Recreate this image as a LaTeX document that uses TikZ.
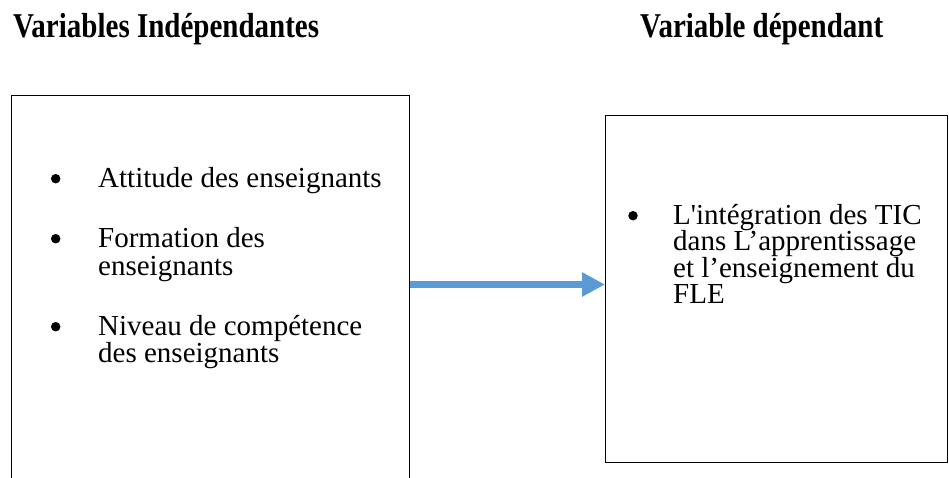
\documentclass[tikz,border=0pt]{standalone}
\usepackage{fontspec}
\setmainfont{Liberation Serif}
\usepackage{graphicx}
\usetikzlibrary{arrows.meta}
\definecolor{flecheBleu}{RGB}{91, 155, 213}
\tikzset{
    % cadres des variables (coupés par le bord de la page)
    cadre/.style={
        rectangle,
        draw=black,
        line width=1.2pt,
        anchor=north west,
        inner sep=0pt
    },
    % titres au-dessus des cadres
    titre/.style={
        anchor=base west,
        inner sep=0pt,
        font=\fontsize{29}{29}\selectfont\bfseries
    },
    % lignes de texte (hauteur fixe, lignes serrées)
    ligne/.style={
        anchor=base west,
        inner sep=0pt,
        text height=19pt,
        text depth=6pt,
        font=\fontsize{29}{29}\selectfont
    },
    % puces rondes
    puce/.style={
        circle,
        fill=black,
        inner sep=0pt,
        minimum size=9.5pt,
        yshift=8.3pt
    },
    % flèche bleue épaisse
    fleche/.style={
        -{Triangle[length=23pt, width=23pt]},
        color=flecheBleu,
        line width=7.7pt
    }
}

\begin{document}
\begin{tikzpicture}[x=1pt, y=-1pt]

    \useasboundingbox (0,0) rectangle (949,477);
    \clip (0,0) rectangle (949,477);

    % titres
    \node[titre] (t_vi) at (13,37) {\scalebox{1}[1.2]{Variables Indépendantes}};
    \node[titre] (t_vd) at (640,37) {\scalebox{1}[1.2]{Variable dépendant}};

    % cadre gauche : variables indépendantes
    \node[cadre, minimum width=398pt, minimum height=420pt] (vi) at (11,95) {};
    \foreach \y in {187, 247, 335}
        \node[puce] (p_vi\y) at (55.7,\y) {};
    \foreach \y/\txt [count=\i] in {187/Attitude des enseignants,
                                    247/Formation des,
                                    275/enseignants,
                                    335/Niveau de compétence,
                                    362/des enseignants}
        \node[ligne] (vi\i) at (98,\y) {\txt};

    % cadre droit : variable dépendante
    \node[cadre, minimum width=342pt, minimum height=347pt] (vd) at (605,115) {};
    \node[puce] (p_vd) at (633,224) {};
    \foreach \y/\txt [count=\i] in {224/L\textquotesingle intégration des TIC,
                                    250.5/dans L’apprentissage,
                                    277/et l’enseignement du,
                                    303.5/FLE}
        \node[ligne] (vd\i) at (673,\y) {\txt};

    % flèche entre les deux cadres
    \coordinate (h_fleche) at (0,284.5);
    \draw[fleche] (vi.east |- h_fleche) -- (vd.west |- h_fleche);

\end{tikzpicture}
\end{document}
